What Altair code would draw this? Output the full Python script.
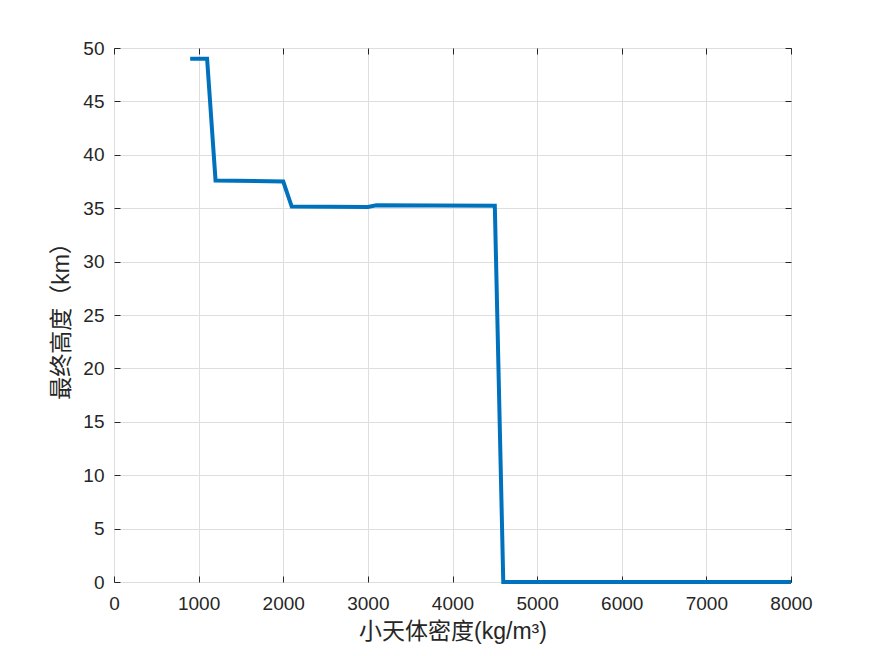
import altair as alt
import pandas as pd

# Data (breakpoints of the curve)
density = [900, 1100, 1200, 2000, 2100, 3000, 3100, 4500, 4600, 8000]
height_km = [49.0, 49.0, 37.6, 37.5, 35.15, 35.12, 35.27, 35.23, 0.0, 0.0]

x_ticks = [0, 1000, 2000, 3000, 4000, 5000, 6000, 7000, 8000]
y_ticks = [0, 5, 10, 15, 20, 25, 30, 35, 40, 45, 50]

df = pd.DataFrame({"x": density, "y": height_km})

FONT = "Liberation Sans, Arial, Noto Sans CJK SC"
AX = "#262626"

xs = alt.Scale(domain=[0, 8000], nice=False, zero=False)
ys = alt.Scale(domain=[0, 50], nice=False, zero=False)

base = alt.Chart(df)

main = base.mark_line(color="#0072BD", strokeWidth=4, clip=False).encode(
    x=alt.X("x:Q", scale=xs, axis=alt.Axis(
        values=x_ticks, title="小天体密度(kg/m³)", grid=True, gridColor="#dedede",
        ticks=True, tickSize=0, domain=False, labelPadding=12,
        labelFlush=False, labelOverlap=False,
        labelFontSize=19, labelFont=FONT, labelColor=AX, format="d",
        titleFont=FONT, titleFontSize=23, titleFontWeight="normal", titleColor=AX,
        titlePadding=7)),
    y=alt.Y("y:Q", scale=ys, axis=alt.Axis(
        values=y_ticks, title="最终高度（km）", grid=True, gridColor="#dedede",
        ticks=True, tickSize=0, domain=False, labelPadding=10,
        labelFlush=False, labelOverlap=False,
        labelFontSize=19, labelFont=FONT, labelColor=AX, format="d",
        titleFont=FONT, titleFontSize=23, titleFontWeight="normal", titleColor=AX,
        titlePadding=9)),
)

ticks_bl = base.mark_line(opacity=0).encode(
    x=alt.X("x:Q", scale=xs, axis=alt.Axis(
        values=x_ticks, orient="bottom", offset=-6, tickSize=6, tickColor=AX,
        labels=False, domain=False, grid=False, title=None)),
    y=alt.Y("y:Q", scale=ys, axis=alt.Axis(
        values=y_ticks, orient="left", offset=-6, tickSize=6, tickColor=AX,
        labels=False, domain=False, grid=False, title=None)),
)

ticks_tr = base.mark_line(opacity=0).encode(
    x=alt.X("x:Q", scale=xs, axis=alt.Axis(
        values=x_ticks, orient="top", offset=-6, tickSize=6, tickColor=AX,
        labels=False, domain=False, grid=False, title=None)),
    y=alt.Y("y:Q", scale=ys, axis=alt.Axis(
        values=y_ticks, orient="right", offset=-6, tickSize=6, tickColor=AX,
        labels=False, domain=False, grid=False, title=None)),
)

chart = alt.layer(main, ticks_bl, ticks_tr).resolve_axis(
    x="independent", y="independent"
).properties(
    width=677, height=534,
    autosize=alt.AutoSizeParams(type="none"),
    padding={"left": 106, "top": 40, "right": 76, "bottom": 66},
    background="white",
).configure_view(stroke=AX, strokeWidth=1)

chart.save("out.html", embed_options={"renderer": "svg", "actions": False})
